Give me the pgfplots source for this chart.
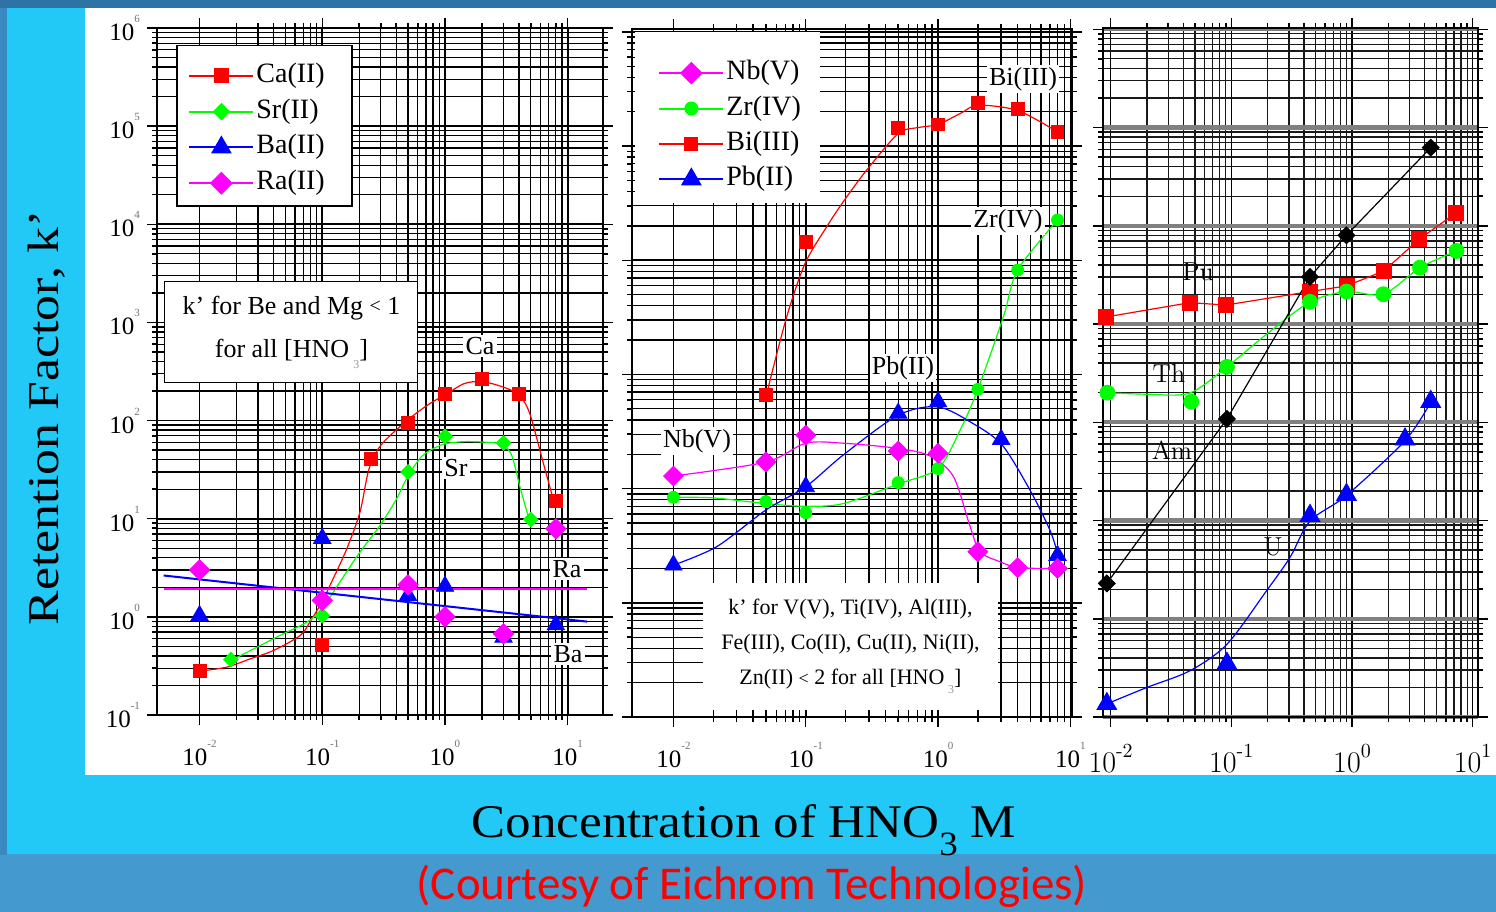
\documentclass[border=0pt]{standalone}
\usepackage{pgfplots}
\pgfplotsset{compat=1.18}
\usepackage{fontspec}
\setmainfont{Liberation Serif}
\newfontfamily\carlito{Carlito}
\usepackage{graphicx}
\definecolor{bgdark}{HTML}{2D73A5}
\definecolor{bgmid}{HTML}{4499CF}
\definecolor{bgstrip}{HTML}{3A88C0}
\definecolor{cyanbg}{HTML}{22C8F6}
\definecolor{pgreen}{HTML}{00FF00}
\definecolor{pmag}{HTML}{FF00FF}
\newcommand{\fs}[1]{\fontsize{#1}{#1}\selectfont}
\newcommand{\tp}[1]{10\raisebox{0.72em}{\fs{5.5bp}\color{black!55}#1}}
\newcommand{\tq}[1]{{\fontfamily{lmr}\selectfont 10\raisebox{0.5em}{\fs{10bp}#1}}}

\begin{document}
\begin{tikzpicture}
% ---------- background ----------
\begin{scope}[x=0.5bp,y=-0.5bp]
\fill[bgmid] (0,0) rectangle (1496,912);
\fill[bgdark] (0,0) rectangle (1496,8);
\fill[bgstrip] (0,8) rectangle (7,855);
\fill[cyanbg] (7,8) rectangle (1496,854);
\fill[white] (85,8) rectangle (1496,775);
\end{scope}

% ---------- panel 1 ----------
\begin{axis}[
  xmode=log, ymode=log, scale only axis, anchor=south west,
  grid=both,
  major grid style={black, line width=0.8bp},
  minor grid style={black, line width=0.65bp},
  axis line style={line width=1.4bp},
  tick align=outside,
  major tick length=5bp, minor tick length=2.5bp,
  tick style={black, line width=0.75bp},
  xtick={0.01,0.1,1,10},
  ticklabel style={font=\fs{12.5bp}},
  xticklabel style={yshift=-4bp},
  legend cell align=left,
  legend image code/.code={\draw[mark repeat=2,mark phase=2,#1] plot coordinates {(0bp,0bp) (16bp,0bp) (32bp,0bp)};},
  at={(78.5bp,-357.5bp)}, width=223bp, height=343.5bp,
  xmin=0.0045, xmax=19.4, ymin=0.1, ymax=1e6,
  xticklabels={\tp{-2},\tp{-1},\tp{0},\tp{1}},
  ytick={0.1,1,10,100,1000,10000,100000,1000000},
  yticklabels={\tp{-1},\tp{0},\tp{1},\tp{2},\tp{3},\tp{4},\tp{5},\tp{6}},
  legend style={at={(0.0695,0.9535)}, anchor=north west, fill=none, draw=none,
    font=\fs{14bp}, inner xsep=0bp, inner ysep=0bp, row sep=2.4bp,
    nodes={inner sep=1bp, text height=10bp, text depth=3.5bp}},
]
\fill[white, draw=black, line width=0.6bp] (rel axis cs:0.0448,0.975) rectangle (rel axis cs:0.437,0.741);
\addlegendimage{red, line width=1bp, mark=square*, mark size=3.3bp}
\addlegendentry{Ca(II)}
\addlegendimage{pgreen, line width=1bp, mark=square*, mark size=2.6bp, mark options={rotate=45}}
\addlegendentry{Sr(II)}
\addlegendimage{blue, line width=1bp, mark=triangle*, mark size=5bp}
\addlegendentry{Ba(II)}
\addlegendimage{pmag, line width=1bp, mark=square*, mark size=3.6bp, mark options={rotate=45}}
\addlegendentry{Ra(II)}
% Ca
\addplot[red, no marks, smooth, tension=0.5, line width=0.6bp, forget plot] coordinates {(0.01,0.28) (0.0166,0.307) (0.0258,0.373) (0.040,0.454) (0.066,0.645) (0.079,0.88) (0.099,1.41) (0.119,2.26) (0.158,4.9) (0.203,11.7) (0.24,32) (0.30,56) (0.49,100) (0.746,148) (1,182) (1.42,237) (1.93,250) (2.72,228) (3.9,187) (4.86,122) (6.3,37.7) (7.6,16)};
\addplot[red, only marks, forget plot, mark=square*, mark size=3.3bp] coordinates {(0.01,0.28) (0.1,0.52) (0.25,41) (0.5,94) (1,187) (2,265) (4,187) (8,15.3)};
% Sr
\addplot[pgreen, no marks, smooth, tension=0.5, line width=0.6bp, forget plot] coordinates {(0.018,0.367) (0.0213,0.40) (0.045,0.645) (0.0746,0.88) (0.099,1.2) (0.139,2.26) (0.203,4.57) (0.295,8.5) (0.404,16) (0.49,26) (0.656,44) (0.96,57) (1.42,61) (2.24,60) (2.94,57) (3.5,44) (4.13,20) (4.86,9.8)};
\addplot[pgreen, only marks, forget plot, mark=square*, mark size=2.6bp, mark options={rotate=45}] coordinates {(0.018,0.367) (0.1,1.03) (0.5,30) (1,69) (3,59) (5,9.8)};
% Ba
\addplot[blue, line width=1bp, forget plot] coordinates {(0.0051,2.64) (14.4,0.895)};
\addplot[blue, only marks, forget plot, mark=triangle*, mark size=5bp] coordinates {(0.01,1.03) (0.1,6.3) (0.5,1.65) (1,2.05) (3,0.62) (8,0.83)};
% Ra
\addplot[pmag, line width=1bp, forget plot] coordinates {(0.0051,1.93) (14.4,1.93)};
\addplot[pmag, only marks, forget plot, mark=square*, mark size=3.6bp, mark options={rotate=45}] coordinates {(0.01,3.0) (0.1,1.47) (0.5,2.12) (1,1.0) (3,0.67) (8,7.9)};
\end{axis}

% ---------- panel 2 ----------
\begin{axis}[
  xmode=log, ymode=log, scale only axis, anchor=south west,
  grid=both,
  major grid style={black, line width=0.8bp},
  minor grid style={black, line width=0.65bp},
  axis line style={line width=1.4bp},
  tick align=outside,
  major tick length=5bp, minor tick length=2.5bp,
  tick style={black, line width=0.75bp},
  xtick={0.01,0.1,1,10},
  ticklabel style={font=\fs{12.5bp}},
  xticklabel style={yshift=-4bp},
  legend cell align=left,
  legend image code/.code={\draw[mark repeat=2,mark phase=2,#1] plot coordinates {(0bp,0bp) (16bp,0bp) (32bp,0bp)};},
  at={(316bp,-358.5bp)}, width=220bp, height=344bp,
  xmin=0.00486, xmax=10.3, ymin=0.1, ymax=1.06e5,
  xticklabels={\tp{-2},\tp{-1},\tp{0},\tp{1}},
  ytick={0.1,1,10,100,1000,10000,100000},
  yticklabels={},
  legend style={at={(0.059,0.959)}, anchor=north west, fill=none, draw=none,
    font=\fs{14bp}, inner xsep=0bp, inner ysep=0bp, row sep=2.2bp,
    nodes={inner sep=1bp, text height=10bp, text depth=3.5bp}},
]
\fill[white] (rel axis cs:0.0068,0.9956) rectangle (rel axis cs:0.427,0.747);
\addlegendimage{pmag, line width=1bp, mark=square*, mark size=3.5bp, mark options={rotate=45}}
\addlegendentry{Nb(V)}
\addlegendimage{pgreen, line width=1bp, mark=*, mark size=3bp}
\addlegendentry{Zr(IV)}
\addlegendimage{red, line width=1bp, mark=square*, mark size=3bp}
\addlegendentry{Bi(III)}
\addlegendimage{blue, line width=1bp, mark=triangle*, mark size=5bp}
\addlegendentry{Pb(II)}
% Bi
\addplot[red, no marks, smooth, tension=0.5, line width=0.6bp, forget plot] coordinates {(0.0507,68) (0.0718,320) (0.0989,940) (0.144,1964) (0.192,3250) (0.289,6170) (0.501,12900) (0.7,14500) (1,15500) (1.5,19500) (2,22800) (4,20500) (8,13300)};
\addplot[red, only marks, forget plot, mark=square*, mark size=3.2bp] coordinates {(0.05,66) (0.1,1452) (0.5,14500) (1,15500) (2,23700) (4,21000) (8,13300)};
% Zr
\addplot[pgreen, no marks, smooth, tension=0.5, line width=0.6bp, forget plot] coordinates {(0.01,8.4) (0.02,8.3) (0.05,7.4) (0.1,7.0) (0.192,7.4) (0.5,11) (1,15) (1.47,32.6) (2,74) (3.12,320) (4,820) (8,2250)};
\addplot[pgreen, only marks, forget plot, mark=*, mark size=3bp] coordinates {(0.01,8.4) (0.05,7.7) (0.1,6.15) (0.5,11.3) (1,15) (2,74) (4,820) (8,2250)};
% Pb
\addplot[blue, no marks, smooth, tension=0.5, line width=0.6bp, forget plot] coordinates {(0.01,2.14) (0.0212,3.1) (0.05,6.5) (0.1,10.4) (0.192,19.7) (0.5,44) (1,52) (1.85,37) (3.06,24) (4.96,9.7) (7.03,4.3) (8.1,2.6)};
\addplot[blue, only marks, forget plot, mark=triangle*, mark size=5bp] coordinates {(0.01,2.14) (0.1,10.4) (0.5,45.8) (1,57.6) (3,27) (8,2.6)};
% Nb
\addplot[pmag, no marks, smooth, tension=0.5, line width=0.6bp, forget plot] coordinates {(0.01,12.9) (0.05,17.1) (0.1,25) (0.192,25) (0.5,22.5) (0.87,19.3) (1.31,12.7) (1.75,4.63) (2.08,2.8) (2.94,2.29) (4.1,2.03) (8,2.0)};
\addplot[pmag, only marks, forget plot, mark=square*, mark size=3.5bp, mark options={rotate=45}] coordinates {(0.01,12.9) (0.05,17.1) (0.1,29.4) (0.5,21.3) (1,20.4) (2,2.8) (4,2.03) (8,2.0)};
\end{axis}

% ---------- panel 3 ----------
\begin{axis}[
  xmode=log, ymode=log, scale only axis, anchor=south west,
  grid=both,
  major x grid style={black, line width=0.8bp},
  major y grid style={black!50, line width=2.2bp},
  minor grid style={black!90, line width=0.65bp},
  axis line style={line width=1.4bp},
  tick align=outside,
  major tick length=5bp, minor tick length=2.5bp,
  tick style={black, line width=0.75bp},
  xtick={0.01,0.1,1,10},
  ticklabel style={font=\fs{15bp}},
  xticklabel style={yshift=-5bp},
  at={(551.5bp,-358.5bp)}, width=187.5bp, height=344.5bp,
  xmin=0.00865, xmax=11.07, ymin=0.1, ymax=1.03e6,
  xticklabels={\tq{-2},\tq{-1},\tq{0},\tq{1}},
  ytick={0.1,1,10,100,1000,10000,100000,1000000},
  yticklabels={},
]
% Pu
\addplot[red, line width=0.6bp, forget plot] coordinates {(0.0092,1180) (0.0455,1650) (0.09,1560) (0.449,2140) (0.9,2440) (1.84,3470) (3.6,7300) (7.2,13400)};
\addplot[red, only marks, forget plot, mark=square*, mark size=3.75bp] coordinates {(0.0092,1180) (0.0455,1650) (0.09,1560) (0.449,2140) (0.9,2440) (1.84,3470) (3.6,7300) (7.2,13400)};
% Th
\addplot[pgreen, no marks, smooth, tension=0.5, line width=0.6bp, forget plot] coordinates {(0.0094,200) (0.02,193) (0.045,198) (0.092,366) (0.196,788) (0.449,1680) (0.9,2140) (1.82,2010) (3.66,3750) (7.35,5540)};
\addplot[pgreen, only marks, forget plot, mark=*, mark size=3.75bp] coordinates {(0.0094,200) (0.0465,162) (0.092,366) (0.449,1680) (0.9,2140) (1.82,2010) (3.66,3750) (7.35,5540)};
% Am
\addplot[black, line width=0.6bp, forget plot] coordinates {(0.0093,2.29) (0.092,108) (0.449,3020) (0.9,8000) (4.49,62400)};
\addplot[black, only marks, forget plot, mark=square*, mark size=3bp, mark options={rotate=45}] coordinates {(0.0093,2.29) (0.092,108) (0.449,3020) (0.9,8000) (4.49,62400)};
% U
\addplot[blue, no marks, smooth, tension=0.5, line width=0.6bp, forget plot] coordinates {(0.0093,0.136) (0.02,0.2) (0.0455,0.296) (0.092,0.55) (0.196,1.93) (0.306,4.2) (0.449,9.9) (0.9,18) (2.75,65) (4.49,160)};
\addplot[blue, only marks, forget plot, mark=triangle*, mark size=5.7bp] coordinates {(0.0093,0.136) (0.092,0.35) (0.449,11.2) (0.9,18.3) (2.75,67) (4.49,162)};
\end{axis}

% ---------- annotations ----------
\begin{scope}[x=0.5bp,y=-0.5bp]
\tikzset{lab/.style={fill=white, inner sep=1.2bp, font=\fs{13bp}}}
\node[lab] at (480,346) {Ca};
\node[lab] at (456,468) {Sr};
\node[lab] at (567,569) {Ra};
\node[lab] at (568,654) {Ba};
\node[fill=white, draw=black, line width=0.5bp, minimum width=126.5bp, minimum height=50.5bp,
  align=center, font=\fs{13bp}, inner sep=0pt] at (291.5,332.5)
  {k' for Be and Mg {\fs{10bp}\raisebox{0.1em}{<}} 1\\[8.5bp] for all [HNO\,\raisebox{-0.4em}{\fs{6bp}\color{black!40}3}]};
\node[lab] at (1023,79) {Bi(III)};
\node[lab] at (1008,221) {Zr(IV)};
\node[lab] at (903,368) {Pb(II)};
\node[lab] at (697,441) {Nb(V)};
\node[fill=white, minimum width=147.5bp, minimum height=63.5bp, align=center,
  font=\fs{11bp}, inner sep=0pt] at (850.5,646.5)
  {k' for V(V), Ti(IV), Al(III),\\[6.5bp] Fe(III), Co(II), Cu(II), Ni(II),\\[6.5bp]
   Zn(II) {\fs{9bp}<} 2 for all [HNO\,\raisebox{-0.4em}{\fs{6bp}\color{black!40}3}]};
\tikzset{lab3/.style={inner sep=0pt, font=\fontfamily{lmr}\fs{13bp}}}
\node[lab3] at (1198,272) {Pu};
\node[lab3] at (1169,373) {Th};
\node[lab3] at (1172,450) {Am};
\node[lab3] at (1273,547) {U};
% axis titles
\node[rotate=90, font=\fs{22bp}, inner sep=0pt] at (47,418) {\scalebox{1.18}[1]{Retention Factor, k'}};
\node[anchor=base, font=\fs{23.4bp}, inner sep=0pt] at (744,838)
  {\scalebox{1.09}[1]{Concentration of HNO\raisebox{-0.38em}{\fs{17bp}3} M}};
\node[anchor=base, font=\carlito\fs{23.5bp}, text=red, inner sep=0pt] at (752,900)
  {(Courtesy of Eichrom Technologies)};
\end{scope}
\pgfresetboundingbox
\path[use as bounding box] (0,0) rectangle (748bp,-456bp);
\end{tikzpicture}
\end{document}
